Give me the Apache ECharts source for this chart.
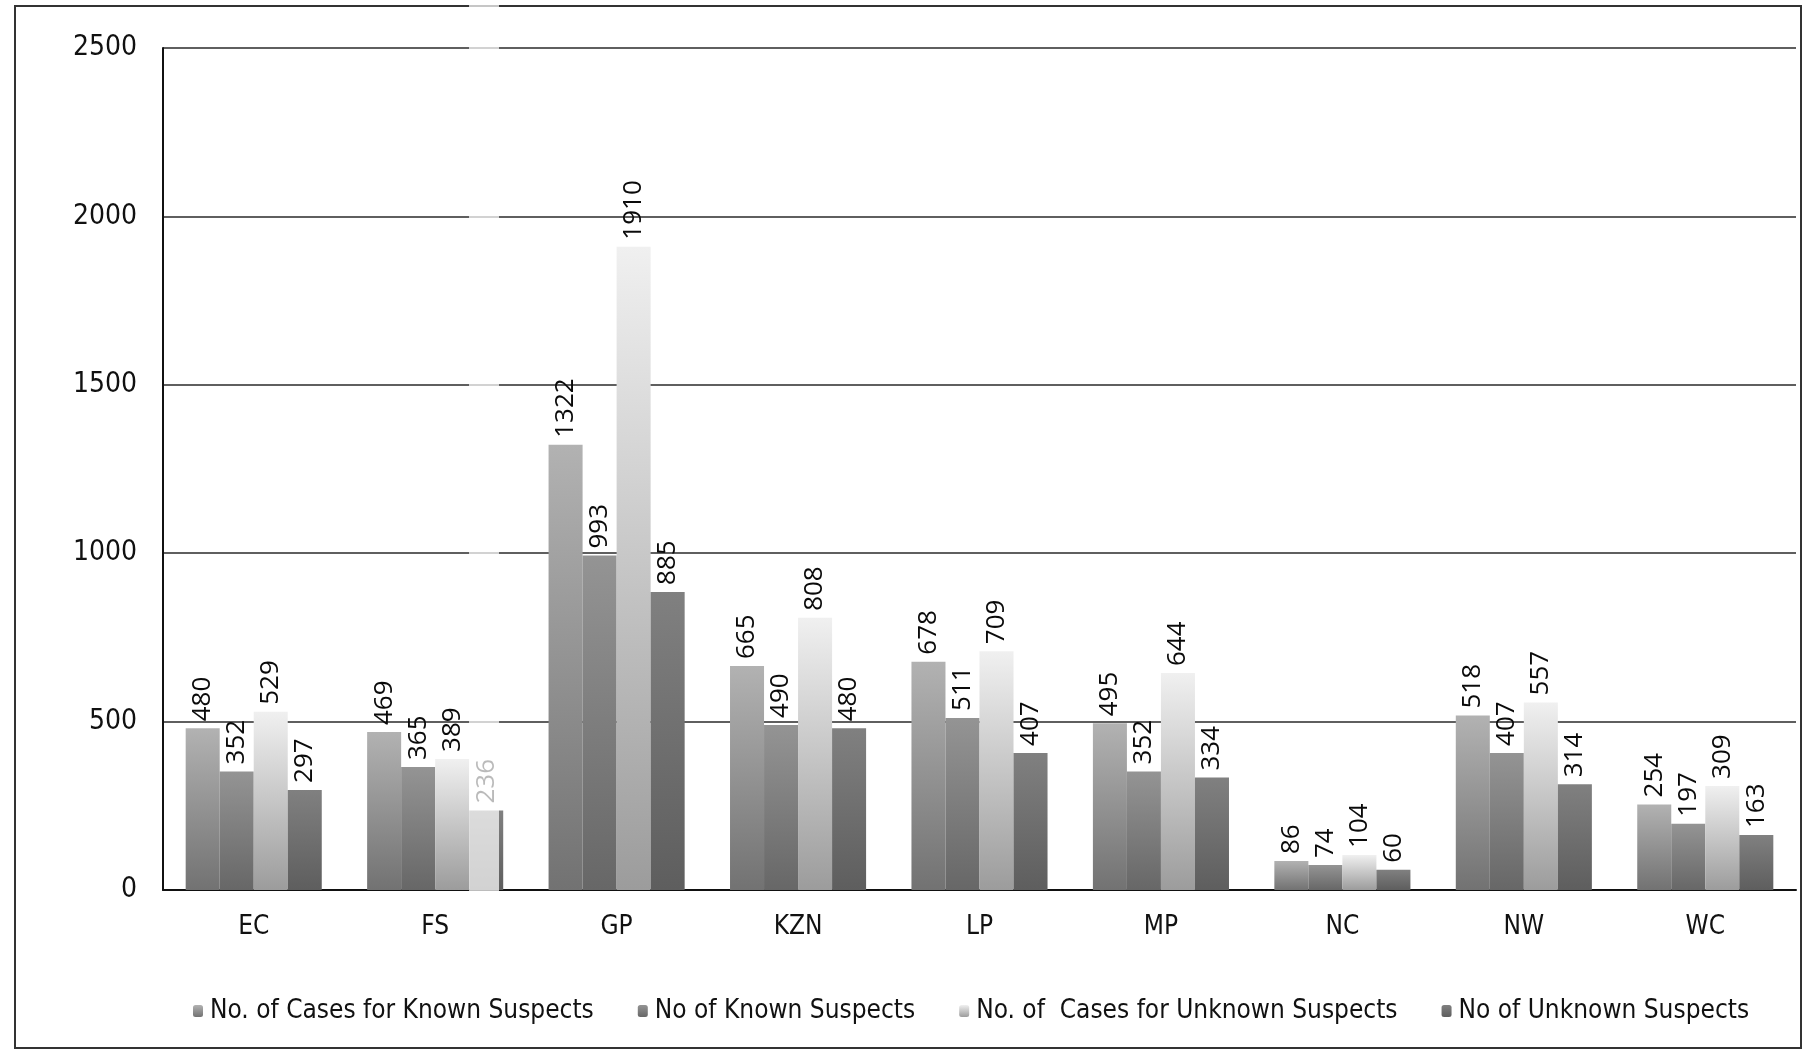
<!DOCTYPE html>
<html>
<head>
<meta charset="utf-8">
<title>Cases and Suspects by Province</title>
<script src="https://cdn.jsdelivr.net/npm/echarts@6/dist/echarts.min.js"></script>
<style>
  html, body { margin: 0; padding: 0; background: #ffffff; }
  #chart { width: 1803px; height: 1050px; }
</style>
</head>
<body>
<div id="chart"></div>
<script>
// Provinces along the category axis
const provinces = ['EC', 'FS', 'GP', 'KZN', 'LP', 'MP', 'NC', 'NW', 'WC'];

// Series values, one entry per province
const casesKnownSuspects   = [480, 469, 1322, 665, 678, 495, 86, 518, 254];
const knownSuspects        = [352, 365, 993, 490, 511, 352, 74, 407, 197];
const casesUnknownSuspects = [529, 389, 1910, 808, 709, 644, 104, 557, 309];
const unknownSuspects      = [297, 236, 885, 480, 407, 334, 60, 314, 163];

const seriesNames = [
  'No. of Cases for Known Suspects',
  'No of Known Suspects',
  'No. of  Cases for Unknown Suspects',
  'No of Unknown Suspects'
];

// Value axis ticks
const yTicks = [0, 500, 1000, 1500, 2000, 2500];

const narrow = "'Liberation Sans Narrow', 'DejaVu Sans Condensed', 'Arial Narrow', sans-serif";

function shade(top, bottom) {
  return new echarts.graphic.LinearGradient(0, 0, 0, 1, [
    { offset: 0, color: top },
    { offset: 1, color: bottom }
  ]);
}

const fills = [
  shade('#b2b2b2', '#727272'),
  shade('#949494', '#676767'),
  shade('#f0f0f0', '#9c9c9c'),
  shade('#808080', '#5e5e5e')
];

const valueLabel = {
  show: true,
  position: 'top',
  rotate: 90,
  align: 'left',
  verticalAlign: 'middle',
  distance: 7,
  color: '#0a0a0a',
  fontFamily: "'Open Sans', 'DejaVu Sans', sans-serif",
  fontSize: 26
};

const values = [casesKnownSuspects, knownSuspects, casesUnknownSuspects, unknownSuspects];

const chart = echarts.init(document.getElementById('chart'), null, { renderer: 'canvas' });

chart.setOption({
  backgroundColor: '#ffffff',
  animation: false,
  grid: { left: 163, right: 7, top: 48, bottom: 160, containLabel: false },
  legend: {
    left: 188,
    top: 993,
    itemWidth: 10,
    itemHeight: 12,
    itemGap: 44,
    textStyle: { fontFamily: narrow, fontSize: 26, color: '#111111', padding: [0, 0, 0, 2] },
    data: seriesNames
  },
  xAxis: {
    type: 'category',
    data: provinces,
    axisLine: { lineStyle: { color: '#111111', width: 2 } },
    axisTick: { show: false },
    axisLabel: { fontFamily: narrow, fontSize: 26, color: '#111111', margin: 24 }
  },
  yAxis: {
    type: 'value',
    min: yTicks[0],
    max: yTicks[yTicks.length - 1],
    interval: yTicks[1] - yTicks[0],
    axisLine: { show: true, lineStyle: { color: '#111111', width: 2 } },
    axisTick: { show: false },
    axisLabel: {
      fontFamily: narrow, fontSize: 28, color: '#111111', margin: 26,
      formatter: (v) => String(v)
    },
    splitLine: { lineStyle: { color: '#2a2a2a', width: 1.6 } }
  },
  series: seriesNames.map((name, i) => ({
    name: name,
    type: 'bar',
    data: values[i],
    barGap: '0%',
    barCategoryGap: '25%',
    itemStyle: { color: fills[i] },
    label: valueLabel
  })),
  graphic: [
    {
      // outer frame of the figure
      type: 'rect',
      silent: true,
      shape: { x: 15, y: 6, width: 1786, height: 1042 },
      style: { fill: 'none', stroke: '#333333', lineWidth: 2 },
      z: 0
    },
    {
      // faded column crossing the FS group
      type: 'rect',
      silent: true,
      shape: { x: 469, y: 0, width: 30, height: 892 },
      style: { fill: 'rgba(255,255,255,0.72)' },
      z: 100
    }
  ]
});
</script>
</body>
</html>
